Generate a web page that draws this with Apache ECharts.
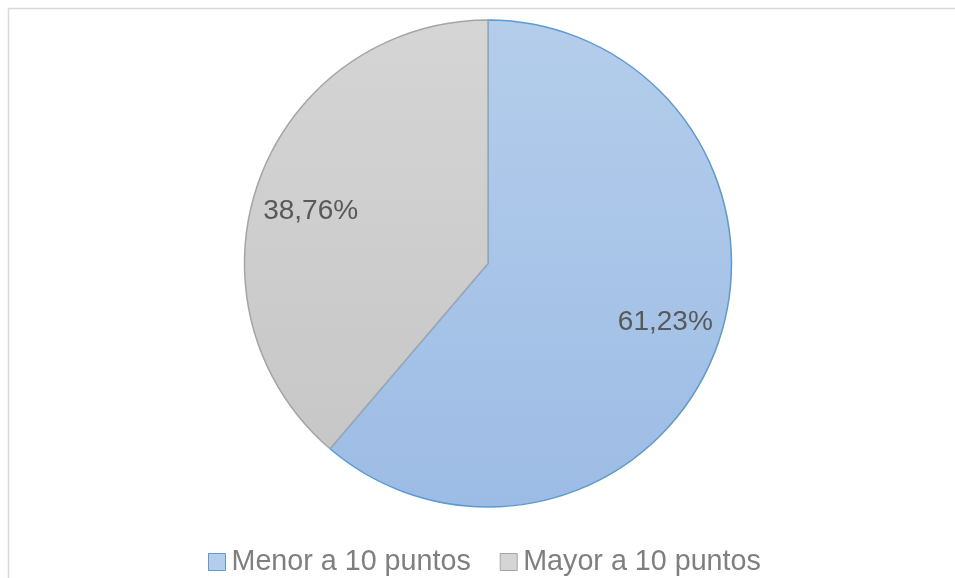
<!DOCTYPE html>
<html>
<head>
<meta charset="utf-8">
<script src="https://cdn.jsdelivr.net/npm/echarts@6/dist/echarts.min.js"></script>
<style>
  html, body { margin: 0; padding: 0; background: #fff; }
  #chart { width: 955px; height: 578px; }
</style>
</head>
<body>
<div id="chart"></div>
<script>
const categories = ['Menor a 10 puntos', 'Mayor a 10 puntos']
const values = [61.23, 38.76]
const sliceColors = [['#b4cdeb', '#9dbce5'], ['#d5d5d5', '#c5c5c5']]
const borderColors = ['#5b9bd5', '#a5a5a5']
// rich style names, used to nudge labels toward Excel's best fit spots
const labelStyles = ['up', 'down']

const fmt = (v) => v.toFixed(2).replace('.', ',') + '%'

const grad = (c) => new echarts.graphic.LinearGradient(0, 20, 0, 507, [
  { offset: 0, color: c[0] },
  { offset: 1, color: c[1] }
], true)

const labelFont = {
  fontFamily: 'Liberation Sans, Arial, sans-serif',
  fontSize: 28,
  color: '#595959'
}

const myChart = echarts.init(document.getElementById('chart'))

myChart.setOption({
  animation: false,
  graphic: [{
    type: 'rect',
    z: -10,
    shape: { x: 8.5, y: 8.5, width: 1000, height: 600 },
    style: { fill: 'none', stroke: '#d9d9d9', lineWidth: 1.5 }
  }],
  legend: {
    left: 203,
    top: 542,
    itemWidth: 17,
    itemHeight: 17,
    itemGap: 29,
    icon: 'rect',
    selectedMode: false,
    textStyle: {
      fontFamily: 'Liberation Sans, Arial, sans-serif',
      fontSize: 28.7,
      color: '#7f7f7f',
      lineHeight: 30,
      padding: [0, 0, 0, 1]
    },
    data: categories.map((name, i) => ({
      name: name,
      itemStyle: { color: sliceColors[i][0], borderColor: borderColors[i], borderWidth: 1 }
    }))
  },
  series: [
    {
      name: 'pie',
      type: 'pie',
      center: [488, 263.5],
      radius: 243.5,
      startAngle: 90,
      clockwise: true,
      silent: true,
      label: { show: false },
      labelLine: { show: false },
      data: categories.map((name, i) => ({
        name: name,
        value: values[i],
        itemStyle: { color: grad(sliceColors[i]), borderColor: borderColors[i], borderWidth: 1.5 }
      }))
    },
    {
      // invisible ring, only to place the labels further out
      name: 'labels',
      type: 'pie',
      center: [488, 263.5],
      radius: [180, 192],
      startAngle: 90,
      clockwise: true,
      silent: true,
      itemStyle: { color: 'rgba(0,0,0,0)', borderWidth: 0 },
      label: {
        show: true,
        position: 'inside',
        formatter: (p) => '{' + labelStyles[p.dataIndex] + '|' + fmt(p.value) + '}',
        rich: {
          up: Object.assign({ padding: [0, 0, 14, 0] }, labelFont),
          down: Object.assign({ padding: [26, 0, 0, 0] }, labelFont)
        }
      },
      labelLine: { show: false },
      data: categories.map((name, i) => ({ name: name, value: values[i] }))
    }
  ]
})
</script>
</body>
</html>
